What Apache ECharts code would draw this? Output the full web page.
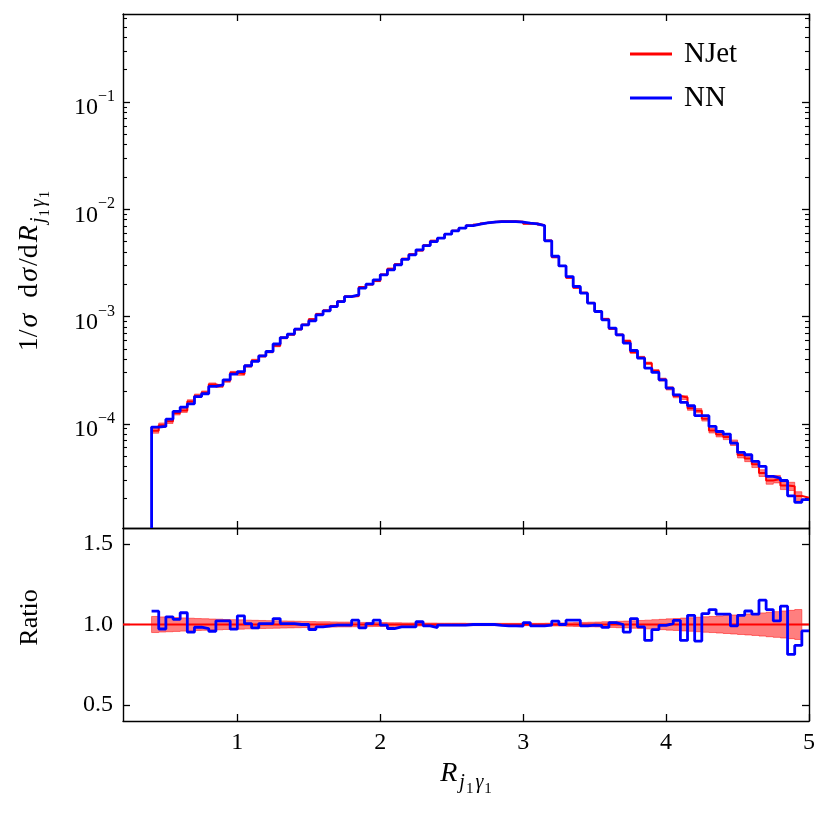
<!DOCTYPE html>
<html>
<head>
<meta charset="utf-8">
<script src="https://cdn.jsdelivr.net/npm/echarts@6/dist/echarts.min.js"></script>
<style>
  html, body { margin: 0; padding: 0; background: #fff; }
  #chart { width: 830px; height: 815px; }
</style>
</head>
<body>
<div id="chart"></div>
<script>
// bins of width 0.05 from 0.40 to 5.00 (93 edges, 92 bins)
const edges = Array.from({ length: 93 }, (_, i) => +(0.4 + 0.05 * i).toFixed(2));

// NN distribution per bin
const nn = [
  9.31e-5, 9.44e-5, 1.104e-4, 1.303e-4, 1.429e-4, 1.535e-4, 1.795e-4, 1.905e-4, 2.228e-4, 2.307e-4,
  2.570e-4, 2.904e-4, 3.069e-4, 3.475e-4, 3.811e-4, 4.305e-4, 4.721e-4, 5.546e-4, 6.368e-4, 6.855e-4,
  7.621e-4, 8.375e-4, 9.12e-4, 1.038e-3, 1.130e-3, 1.239e-3, 1.380e-3, 1.535e-3, 1.592e-3, 1.841e-3,
  2.004e-3, 2.198e-3, 2.449e-3, 2.723e-3, 3.034e-3, 3.412e-3, 3.758e-3, 4.188e-3, 4.592e-3, 5.0e-3,
  5.383e-3, 5.861e-3, 6.295e-3, 6.668e-3, 7.047e-3, 7.261e-3, 7.464e-3, 7.586e-3, 7.674e-3, 7.674e-3,
  7.674e-3, 7.586e-3, 7.413e-3, 7.311e-3, 7.047e-3, 5.082e-3, 3.648e-3, 2.965e-3, 2.360e-3, 1.905e-3,
  1.652e-3, 1.334e-3, 1.114e-3, 9.31e-4, 7.80e-4, 6.75e-4, 5.65e-4, 4.82e-4, 4.09e-4, 3.30e-4,
  3.01e-4, 2.57e-4, 2.15e-4, 1.862e-4, 1.581e-4, 1.472e-4, 1.189e-4, 1.189e-4, 9.44e-5, 8.47e-5,
  8.02e-5, 6.61e-5, 5.41e-5, 5.14e-5, 4.46e-5, 4.00e-5, 3.23e-5, 3.12e-5, 2.96e-5, 2.13e-5,
  1.85e-5, 1.96e-5
];

// NN / NJet per bin
const ratio = [
  1.083, 0.972, 1.048, 1.032, 1.073, 0.952, 0.983, 0.975, 0.958, 1.023,
  1.023, 0.971, 1.054, 1.006, 0.979, 1.006, 1.006, 1.037, 1.006, 1.006,
  1.000, 1.000, 0.969, 0.985, 0.992, 0.996, 0.996, 0.996, 1.027, 0.979,
  1.006, 1.027, 0.996, 0.975, 0.985, 0.985, 0.985, 1.017, 0.992, 0.981,
  0.996, 0.996, 0.996, 0.996, 1.000, 1.000, 1.000, 1.000, 0.994, 0.992,
  0.992, 0.990, 1.012, 0.992, 0.992, 0.996, 1.021, 1.000, 1.027, 1.027,
  0.992, 0.996, 0.995, 0.982, 1.012, 1.000, 0.953, 1.037, 0.985, 0.901,
  0.968, 0.995, 1.005, 1.026, 0.901, 1.057, 0.897, 1.068, 1.093, 1.064,
  1.064, 0.991, 1.057, 1.084, 1.064, 1.151, 1.093, 1.022, 1.114, 0.814,
  0.870, 0.960
];

// relative NJet uncertainty per bin (half width of the red band)
const relErr = [
  0.050, 0.047, 0.045, 0.043, 0.041, 0.039, 0.037, 0.036, 0.034, 0.033,
  0.031, 0.030, 0.029, 0.027, 0.026, 0.025, 0.024, 0.023, 0.022, 0.021,
  0.020, 0.019, 0.018, 0.017, 0.017, 0.016, 0.015, 0.015, 0.014, 0.013,
  0.013, 0.012, 0.012, 0.011, 0.011, 0.010, 0.010, 0.009, 0.009, 0.009,
  0.008, 0.008, 0.008, 0.008, 0.007, 0.007, 0.007, 0.007, 0.007, 0.007,
  0.007, 0.007, 0.007, 0.007, 0.007, 0.008, 0.009, 0.010, 0.011, 0.012,
  0.013, 0.014, 0.015, 0.017, 0.018, 0.020, 0.021, 0.023, 0.025, 0.027,
  0.030, 0.032, 0.035, 0.037, 0.040, 0.042, 0.045, 0.048, 0.050, 0.053,
  0.056, 0.059, 0.062, 0.065, 0.068, 0.072, 0.076, 0.080, 0.084, 0.088,
  0.093, 0.098
];

const xTicks = [1, 2, 3, 4, 5];
const yMajor = [1e-4, 1e-3, 1e-2, 1e-1];
const ratioTicks = [0.5, 1.0, 1.5];

const X_MIN = 0.2, X_MAX = 5;
const Y_MIN = 1.067e-5, Y_MAX = 0.662;
const R_MIN = 0.4, R_MAX = 1.6;

const njet = nn.map((v, i) => v / ratio[i]);
const njetHi = njet.map((v, i) => v * (1 + relErr[i]));
const njetLo = njet.map((v, i) => v * (1 - relErr[i]));
const rHi = relErr.map(e => 1 + e);
const rLo = relErr.map(e => 1 - e);

// log minor ticks 2..9 x 10^k
const yMinor = [];
for (let k = -5; k <= 0; k++) {
  for (let m = 2; m <= 9; m++) {
    const v = m * Math.pow(10, k);
    if (v > Y_MIN && v < Y_MAX) yMinor.push(v);
  }
}

// step lines: value holds until next edge
const stepPts = (vals) => edges.map((x, i) => [x, vals[Math.min(i, vals.length - 1)]]);
const njetPts = stepPts(njet);
const nnPts = [[edges[0], Y_MIN]].concat(stepPts(nn));
const ratioPts = stepPts(ratio);

// band polygon (fill_between step='post' over left edges, so last bin is open)
function bandPoints(api, lo, hi) {
  const pts = [];
  const n = lo.length - 1;
  for (let i = 0; i < n; i++) {
    pts.push(api.coord([edges[i], hi[i]]), api.coord([edges[i + 1], hi[i]]));
  }
  for (let i = n - 1; i >= 0; i--) {
    pts.push(api.coord([edges[i + 1], lo[i]]), api.coord([edges[i], lo[i]]));
  }
  return pts;
}
const bandRender = (lo, hi) => (params, api) => ({
  type: 'polygon',
  shape: { points: bandPoints(api, lo, hi) },
  style: { fill: 'rgba(255,0,0,0.5)', stroke: 'rgba(255,0,0,0.5)', lineWidth: 1 }
});

const FONT = 'Liberation Serif';
const axisLine = { show: true, onZero: false, lineStyle: { color: '#000', width: 1.4 } };
const majorTick = (vals) => ({ show: true, inside: true, length: 7, customValues: vals, lineStyle: { color: '#000', width: 1.3 } });
const minorTick = (vals) => ({ show: true, inside: true, length: 4, customValues: vals, lineStyle: { color: '#000', width: 1.1 } });

const rich = {
  t: { fontFamily: FONT, fontSize: 28, lineHeight: 31, color: '#000', verticalAlign: 'top', padding: [0, 1, 0, 1] },
  i: { fontFamily: FONT, fontSize: 28, lineHeight: 31, color: '#000', fontStyle: 'italic', verticalAlign: 'top', padding: [0, 1, 0, 1] },
  s: { fontFamily: FONT, fontSize: 20, lineHeight: 21, color: '#000', fontStyle: 'italic', verticalAlign: 'top', padding: [13, 1, 0, 1] },
  ss: { fontFamily: FONT, fontSize: 15, lineHeight: 16, color: '#000', verticalAlign: 'top', padding: [22, 1, 0, 0] }
};
const Rsub = '{i|R}{s|j}{ss|1}{s|γ}{ss|1}';

const xBase = (grid, pos) => ({
  type: 'value', gridIndex: grid, position: pos, min: X_MIN, max: X_MAX,
  axisLine: axisLine, axisTick: majorTick(xTicks), axisLabel: { show: false },
  splitLine: { show: false }
});

const chart = echarts.init(document.getElementById('chart'));
chart.setOption({
  animation: false,
  textStyle: { fontFamily: FONT },
  legend: {
    data: ['NJet', 'NN'],
    orient: 'vertical',
    left: 625,
    top: 33,
    icon: 'rect',
    itemWidth: 42,
    itemHeight: 3,
    itemGap: 12,
    textStyle: { fontFamily: FONT, fontSize: 29, color: '#000', padding: [0, 0, 0, 7], lineHeight: 32 }
  },
  grid: [
    { left: 123, top: 14, width: 686, height: 514 },
    { left: 123, top: 528, width: 686, height: 193 }
  ],
  xAxis: [
    xBase(0, 'bottom'),
    xBase(0, 'top'),
    Object.assign(xBase(1, 'bottom'), {
      axisLabel: { show: true, customValues: xTicks, fontSize: 24, color: '#000', margin: 10, fontFamily: FONT },
      name: Rsub, nameLocation: 'middle', nameGap: 39,
      nameTextStyle: { rich: rich }
    }),
    xBase(1, 'top')
  ],
  yAxis: [
    {
      type: 'log', logBase: 10, gridIndex: 0, position: 'left', min: Y_MIN, max: Y_MAX,
      axisLine: axisLine, axisTick: majorTick(yMajor), splitLine: { show: false },
      axisLabel: {
        show: true, customValues: yMajor, margin: 8,
        formatter: v => '{b|10}{e|−' + Math.round(-Math.log10(v)) + '}',
        rich: {
          b: { fontFamily: FONT, fontSize: 24, lineHeight: 26, color: '#000', verticalAlign: 'top', padding: [7, 0, 0, 0] },
          e: { fontFamily: FONT, fontSize: 16, lineHeight: 18, color: '#000', verticalAlign: 'top' }
        }
      },
      name: '{t|1/}{i|σ}{t|  d}{i|σ}{t|/d}' + Rsub,
      nameLocation: 'middle', nameGap: 76,
      nameTextStyle: { rich: rich }
    },
    {
      type: 'log', logBase: 10, gridIndex: 0, position: 'left', min: Y_MIN, max: Y_MAX,
      axisLine: { show: false }, axisTick: minorTick(yMinor), axisLabel: { show: false }, splitLine: { show: false }
    },
    {
      type: 'log', logBase: 10, gridIndex: 0, position: 'right', min: Y_MIN, max: Y_MAX,
      axisLine: axisLine, axisTick: majorTick(yMajor), axisLabel: { show: false }, splitLine: { show: false }
    },
    {
      type: 'log', logBase: 10, gridIndex: 0, position: 'right', min: Y_MIN, max: Y_MAX,
      axisLine: { show: false }, axisTick: minorTick(yMinor), axisLabel: { show: false }, splitLine: { show: false }
    },
    {
      type: 'value', gridIndex: 1, position: 'left', min: R_MIN, max: R_MAX,
      axisLine: axisLine, axisTick: majorTick(ratioTicks), splitLine: { show: false },
      axisLabel: { show: true, customValues: ratioTicks, fontSize: 24, color: '#000', margin: 10, fontFamily: FONT,
        formatter: v => v.toFixed(1) },
      name: 'Ratio', nameLocation: 'middle', nameGap: 80,
      nameTextStyle: { fontFamily: FONT, fontSize: 26, color: '#000', padding: [0, 0, 0, 14] }
    },
    {
      type: 'value', gridIndex: 1, position: 'right', min: R_MIN, max: R_MAX,
      axisLine: axisLine, axisTick: majorTick(ratioTicks), axisLabel: { show: false }, splitLine: { show: false }
    }
  ],
  series: [
    {
      type: 'custom', name: 'NJet band', xAxisIndex: 0, yAxisIndex: 0, silent: true, z: 1,
      renderItem: bandRender(njetLo, njetHi), data: [[edges[0], njet[0]]]
    },
    {
      type: 'line', name: 'NJet', xAxisIndex: 0, yAxisIndex: 0, step: 'end', symbol: 'none', z: 2,
      data: njetPts, itemStyle: { color: '#ff0000' }, lineStyle: { color: '#ff0000', width: 2 }
    },
    {
      type: 'line', name: 'NN', xAxisIndex: 0, yAxisIndex: 0, step: 'end', symbol: 'none', z: 3,
      data: nnPts, itemStyle: { color: '#0000ff' }, lineStyle: { color: '#0000ff', width: 2.8 }
    },
    {
      type: 'custom', name: 'ratio band', xAxisIndex: 2, yAxisIndex: 4, silent: true, z: 1,
      renderItem: bandRender(rLo, rHi), data: [[edges[0], 1]]
    },
    {
      type: 'line', name: 'unity', xAxisIndex: 2, yAxisIndex: 4, symbol: 'none', z: 2,
      data: [[X_MIN, 1], [X_MAX, 1]], lineStyle: { color: '#ff0000', width: 2 }
    },
    {
      type: 'line', name: 'NN ratio', xAxisIndex: 2, yAxisIndex: 4, step: 'end', symbol: 'none', z: 3,
      data: ratioPts, lineStyle: { color: '#0000ff', width: 2.8 }
    }
  ]
});
</script>
</body>
</html>
